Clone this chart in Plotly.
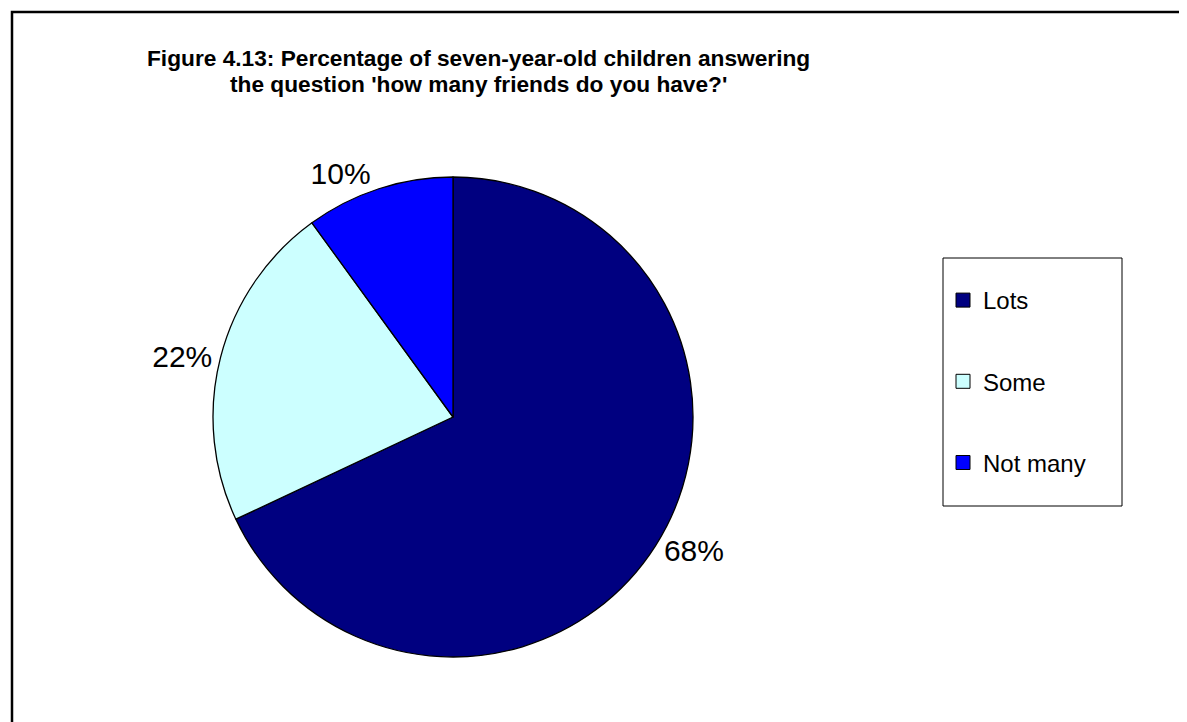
import plotly.graph_objects as go

# page is rendered with the default 8px body margin, so the figure is
# a bit smaller than the window and positions below are in page pixels
OFF = 8
W, H = 1187 - OFF, 722 - OFF

labels = ["Lots", "Some", "Not many"]
values = [68, 22, 10]
colors = ["#000080", "#CCFFFF", "#0000FF"]

title_lines = [
    "Figure 4.13: Percentage of seven-year-old children answering",
    "the question 'how many friends do you have?'",
]

FONT = "Arial, Liberation Sans, sans-serif"


def px_x(x):
    return (x - OFF) / W


def px_y(y):
    return 1 - (y - OFF) / H


fig = go.Figure()

fig.add_trace(
    go.Pie(
        labels=labels,
        values=values,
        sort=False,
        direction="clockwise",
        rotation=0,
        marker=dict(colors=colors, line=dict(color="black", width=1.3)),
        texttemplate="%{percent:.0%}",
        textposition="outside",
        outsidetextfont=dict(family=FONT, size=30, color="black"),
        domain=dict(x=[px_x(213), px_x(693)], y=[px_y(657), px_y(177)]),
        showlegend=False,
        hoverinfo="label+percent",
    )
)

# legend entries (square swatches like the original)
for lab, col in zip(labels, colors):
    fig.add_trace(
        go.Scatter(
            x=[None], y=[None],
            mode="markers",
            name=lab,
            legendgroup=lab,
            marker=dict(symbol="square", size=14, color=col,
                        line=dict(color="black", width=1)),
        )
    )

annotations = [
    dict(text="<b>%s</b>" % t, xref="paper", yref="paper",
         x=px_x(478), y=px_y(yc), xanchor="center", yanchor="middle",
         showarrow=False, font=dict(family=FONT, size=22.7, color="black"))
    for t, yc in zip(title_lines, [58, 84])
]

fig.update_layout(
    width=W,
    height=H,
    autosize=False,
    margin=dict(l=0, r=0, t=0, b=0),
    paper_bgcolor="white",
    plot_bgcolor="white",
    font=dict(family=FONT, color="black"),
    annotations=annotations,
    xaxis=dict(visible=False),
    yaxis=dict(visible=False),
    showlegend=True,
    legend=dict(
        x=px_x(943),
        xanchor="left",
        y=px_y(278),
        yanchor="top",
        traceorder="grouped",
        tracegroupgap=47,
        font=dict(family=FONT, size=24, color="black"),
        bgcolor="rgba(0,0,0,0)",
        borderwidth=0,
    ),
    shapes=[
        # outer chart border (runs off the right and bottom of the view)
        dict(type="rect", xref="paper", yref="paper",
             x0=px_x(12), x1=1.2, y0=-0.2, y1=px_y(12),
             line=dict(color="black", width=2.5)),
        # legend box
        dict(type="rect", xref="paper", yref="paper",
             x0=px_x(943), x1=px_x(1122), y0=px_y(506), y1=px_y(258),
             line=dict(color="black", width=1)),
    ],
)

fig.write_html("out.html")
